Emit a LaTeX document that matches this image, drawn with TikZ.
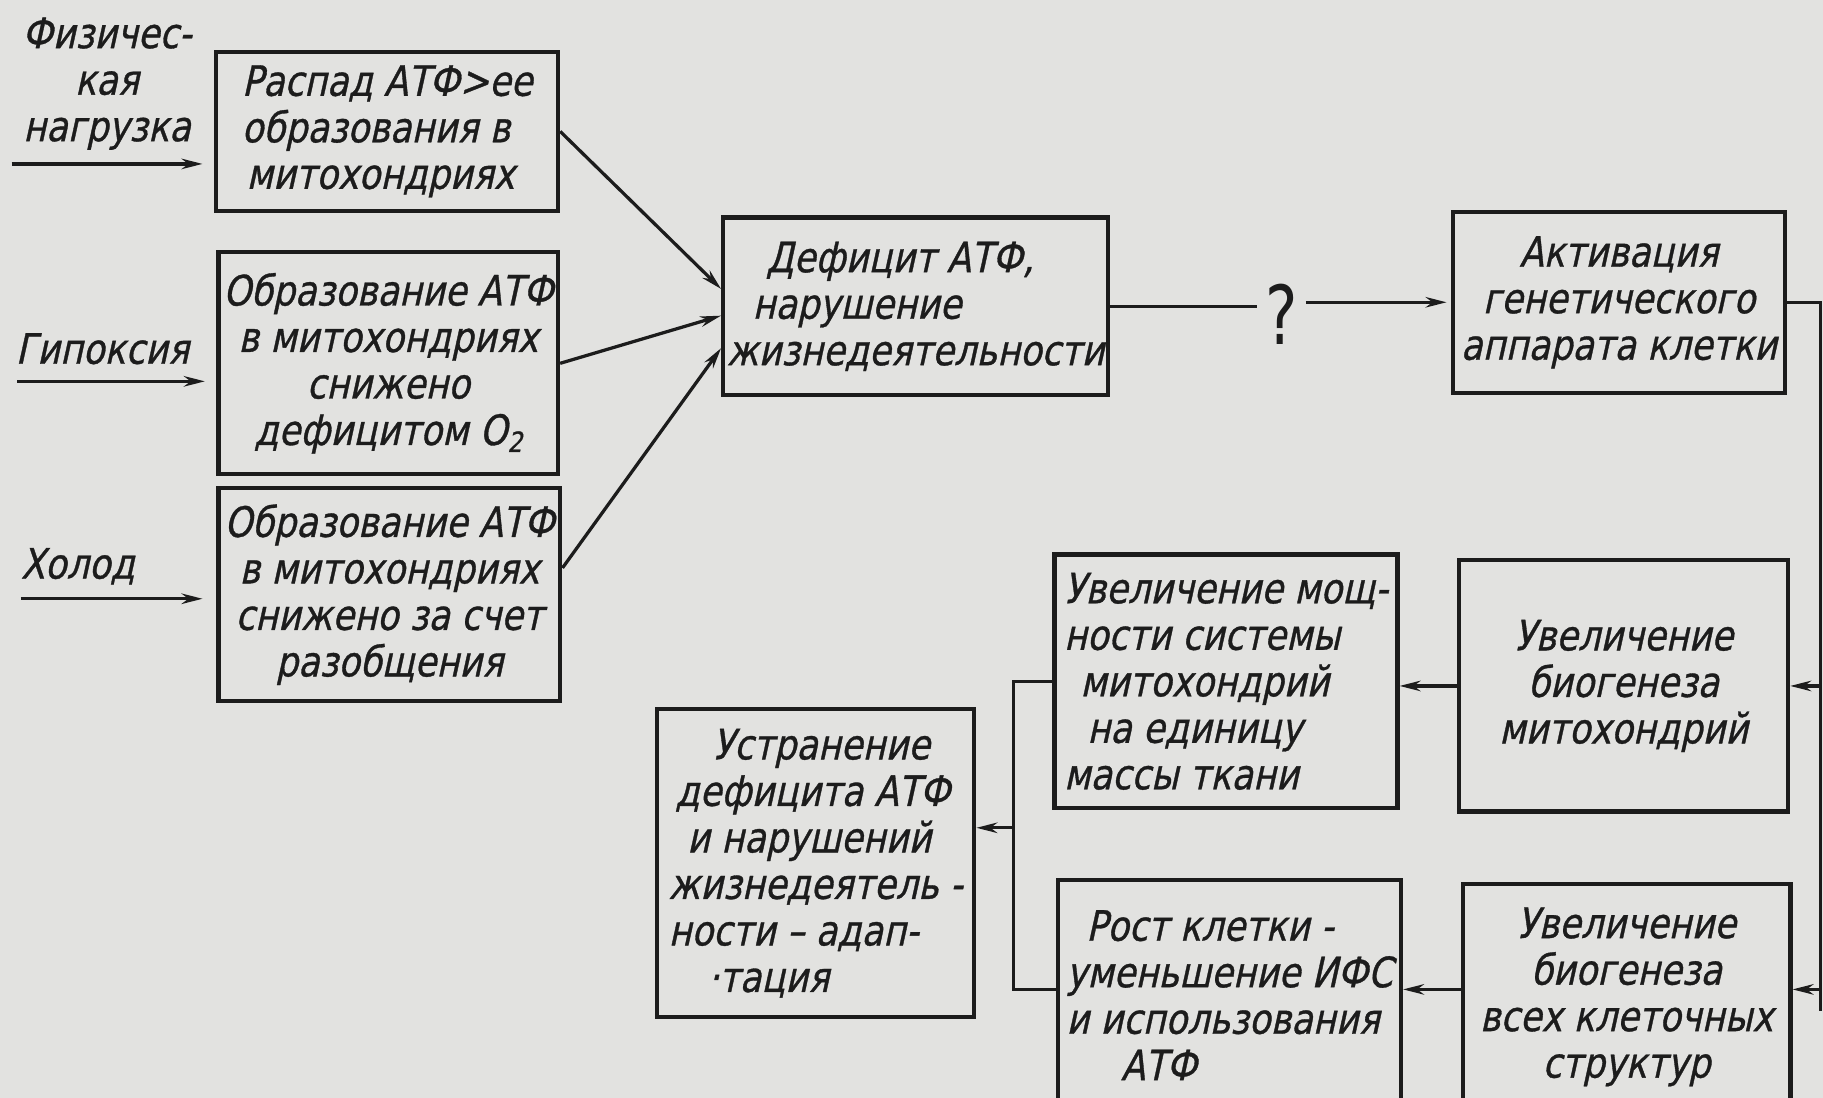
\documentclass[tikz,border=0pt]{standalone}
\usepackage{fontspec}
\usetikzlibrary{arrows.meta,calc}
\newfontfamily\gost{DejaVu Sans}[FakeStretch=0.84,FakeSlant=0.22,FakeBold=0.8]
\newfontfamily\qfont{DejaVu Sans}[FakeStretch=0.75]
\definecolor{paper}{RGB}{226,226,224}
\definecolor{ink}{RGB}{28,28,28}
\begin{document}
\begin{tikzpicture}[x=1pt,y=-1pt,
  box/.style={draw=ink, line width=3.6pt, inner sep=0pt, text=ink,
    font=\gost\fontsize{36}{40}\selectfont},
  lbl/.style={text=ink, align=center, inner sep=0pt,
    font=\gost\fontsize{36}{40}\selectfont},
  conn/.style={draw=ink, line width=2.8pt},
  arr/.style={conn, -{Stealth[length=18pt,width=9pt]}},
]
\useasboundingbox (0,0) rectangle (1568,944);
\clip (0,0) rectangle (1568,944);
\fill[paper] (0,0) rectangle (1568,944);

% input labels
\node[lbl] (l1) at (92,72) {Физичес-\\кая\\нагрузка};
\node[lbl] (l2) at (88,300) {Гипоксия};
\node[lbl] (l3) at (67,487) {Холод};

% left boxes
\node[box, minimum width=294pt, minimum height=137pt, align=left] (b1) at (333,113)
  {Распад АТФ>ее\\образования в\\\hspace*{4pt}митохондриях};
\node[box, minimum width=292pt, minimum height=191pt, align=center] (b2) at (334,312.5)
  {Образование АТФ\\в митохондриях\\снижено\\дефицитом O\raisebox{-6pt}{\fontsize{24}{24}\selectfont 2}};
\node[box, minimum width=294pt, minimum height=183pt, align=center] (b3) at (335,511.5)
  {Образование АТФ\\в митохондриях\\снижено за счет\\разобщения};

% central box
\node[box, minimum width=331pt, minimum height=153pt, align=left] (bd) at (787.5,263.5)
  {\hspace*{34pt}Дефицит АТФ,\\\hspace*{22pt}нарушение\\жизнедеятельности};

% question mark
\node[text=ink, inner sep=7pt, font=\qfont\fontsize{70}{70}\selectfont] (q) at (1102,270) {?};

% genetic apparatus
\node[box, minimum width=285pt, minimum height=156pt, align=center] (ba) at (1392.5,260)
  {Активация\\генетического\\аппарата клетки};

% right column
\node[box, minimum width=283pt, minimum height=216pt, align=center] (bm) at (1396.5,590)
  {Увеличение\\биогенеза\\митохондрий};
\node[box, minimum width=282pt, minimum height=195pt, align=center] (bs) at (1399,857.5)
  {Увеличение\\биогенеза\\всех клеточных\\структур};

% middle column
\node[box, minimum width=295pt, minimum height=218pt, align=left] (bp) at (1054.5,586)
  {Увеличение мощ-\\ности системы\\\hspace*{14pt}митохондрий\\\hspace*{20pt}на единицу\\массы ткани};
\node[box, minimum width=295pt, minimum height=198pt, align=left] (br) at (1057.5,856)
  {\hspace*{17pt}Рост клетки -\\уменьшение ИФС\\и использования\\\hspace*{47pt}АТФ};

% result
\node[box, minimum width=273pt, minimum height=265pt, align=left] (bu) at (701.5,742.5)
  {\hspace*{38pt}Устранение\\\hspace*{6pt}дефицита АТФ\\\hspace*{16pt}и нарушений\\жизнедеятель -\\ности – адап-\\\hspace*{34pt}·тация};

% input arrows
\coordinate (s1) at (10,141);
\coordinate (s2) at (15,328);
\coordinate (s3) at (18,515);
\draw[arr, shorten >=10pt] (s1) -- (s1 -| b1.west);
\draw[arr, shorten >=10pt] (s2) -- (s2 -| b2.west);
\draw[arr, shorten >=12pt] (s3) -- (s3 -| b3.west);

% to deficit box
\draw[arr] (b1.east) -- ([yshift=15pt]bd.west);
\draw[arr] (b2.east) -- ([yshift=-8pt]bd.west);
\draw[arr] ([yshift=23pt]b3.east) -- ([yshift=-36pt]bd.west);

% deficit -> ? -> activation
\draw[conn] (bd.east) -- (bd.east -| q.west);
\draw[arr, shorten >=4pt] (q.east |- ba.west) -- (ba.west);

% right edge distribution
\coordinate (re) at (1566,0);
\coordinate (kb) at (872,851);
\coordinate (kj) at (872,712);
\coordinate (rb) at (1566,870);
\draw[conn] (ba.east) -| (rb);
\draw[arr] (re |- bm.east) -- (bm.east);
\draw[arr] (re |- kb) -- (kb -| bs.east);

% right column -> middle column
\draw[arr] (bm.west) -- (bm.west -| bp.east);
\draw[arr] (bs.west |- kb) -- (br.east |- kb);

% bracket -> result
\draw[conn] (bp.west) -| (kb) -- (kb -| br.west);
\draw[arr] (kj) -- (kj -| bu.east);
\end{tikzpicture}
\end{document}
